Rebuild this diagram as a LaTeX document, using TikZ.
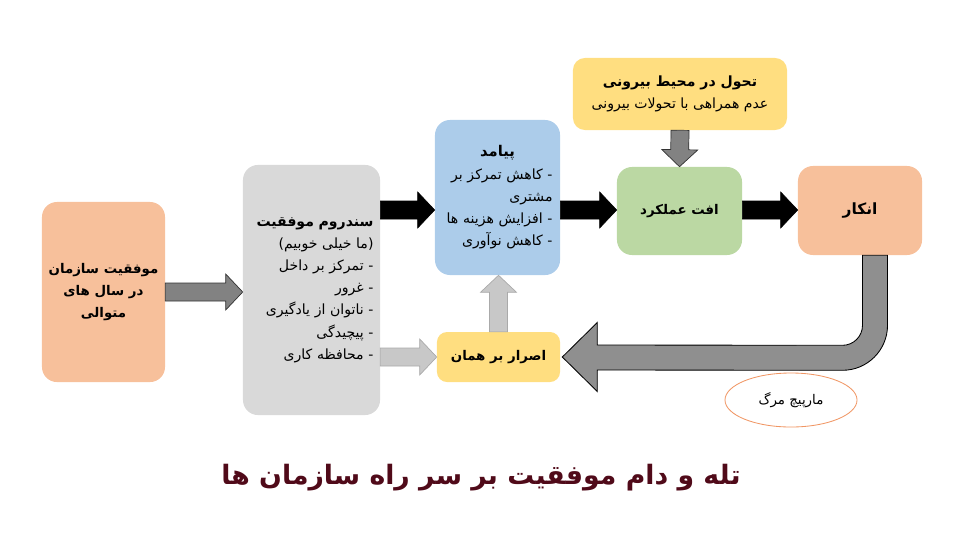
\documentclass[tikz,border=0pt]{standalone}
\usepackage{fontspec}
\usetikzlibrary{calc,shapes.geometric}
\TeXXeTstate=1
\newfontfamily\fa[Script=Arabic]{DejaVu Sans}

\definecolor{peach}{RGB}{247,192,155}
\definecolor{boxgray}{RGB}{217,217,217}
\definecolor{boxblue}{RGB}{172,204,234}
\definecolor{boxyellow}{RGB}{255,222,128}
\definecolor{boxgreen}{RGB}{187,216,163}
\definecolor{ringorange}{RGB}{240,150,100}
\definecolor{titlered}{RGB}{80,10,25}

\newcommand{\arrsh}{0.225cm}
\newcommand{\arrhh}{0.45cm}
\newcommand{\arrhl}{0.425cm}
\newcommand{\blockarrow}[3]{%
  \path #2 coordinate (ba) #3 coordinate (bb);
  \path ($(bb)!\arrhl!(ba)$) coordinate (bh);
  \draw[#1] ($(ba)!\arrsh!90:(bb)$) -- ($(bh)!\arrsh!90:(bb)$) -- ($(bh)!\arrhh!90:(bb)$)
    -- (bb) -- ($(bh)!\arrhh!-90:(bb)$) -- ($(bh)!\arrsh!-90:(bb)$) -- ($(ba)!\arrsh!-90:(bb)$) -- cycle;}

\begin{document}
\begin{tikzpicture}[x=0.025cm, y=-0.025cm,
    box/.style={rounded corners=0.375cm, align=center, inner sep=0pt, font=\fa\fontsize{10}{15.8}\selectfont},
    boldbox/.style={box, font=\fa\bfseries\fontsize{#1}{15.6}\selectfont},
    darkarrow/.style={fill={rgb,255:red,130;green,130;blue,130}, draw=black!80, line width=0.5pt},
    blackarrow/.style={fill=black, draw=black},
    lightarrow/.style={fill={rgb,255:red,200;green,200;blue,200}, draw={rgb,255:red,170;green,170;blue,170}, line width=0.5pt},
    bigarrow/.style={fill={rgb,255:red,143;green,143;blue,143}, draw=black, line width=0.6pt}]
  \useasboundingbox (0,0) rectangle (970,540);

  \node[boldbox=9.5, fill=peach, minimum width=3.075cm, minimum height=4.5cm] (success) at (103.5,292)
    {\beginR موفقیت سازمان\endR\\\beginR در سال های\endR\\\beginR متوالی\endR};
  \node[box, fill=boxgray, minimum width=3.425cm, minimum height=6.25cm, align=right, text width=3.1cm] (syndrome) at (311.5,290)
    {{\bfseries\fontsize{10}{15.8}\selectfont\beginR سندروم موفقیت\endR}\\
     \beginR (ما خیلی خوبیم)\endR\\
     \beginR - تمرکز بر داخل\endR\\
     \beginR - غرور\endR\\
     \beginR - ناتوان از یادگیری\endR\\
     \beginR - پیچیدگی\endR\\
     \beginR - محافظه کاری\endR};
  \node[box, fill=boxblue, minimum width=3.125cm, minimum height=3.875cm, align=right, text width=2.75cm] (outcome) at (497.5,197.5)
    {\makebox[2.75cm]{\bfseries\fontsize{10.5}{15.8}\selectfont\beginR پیامد\endR}\\
     \beginR - کاهش تمرکز بر\endR\\
     \beginR مشتری\endR\\
     \beginR - افزایش هزینه ها\endR\\
     \beginR - کاهش نوآوری\endR};
  \node[box, fill=boxyellow, rounded corners=0.3cm, minimum width=5.35cm, minimum height=1.8cm] (change) at (680,94)
    {{\bfseries\fontsize{10}{15.8}\selectfont\beginR تحول در محیط بیرونی\endR}\\\beginR عدم همراهی با تحولات بیرونی\endR};
  \node[boldbox=9.5, fill=boxgreen, minimum width=3.125cm, minimum height=2.2cm] (decline) at (679.5,211)
    {\beginR افت عملکرد\endR};
  \node[boldbox=11, fill=peach, minimum width=3.1cm, minimum height=2.225cm] (denial) at (860,210.5)
    {\beginR انکار\endR};
  \node[boldbox=9.5, fill=boxyellow, rounded corners=0.25cm, minimum width=3.075cm, minimum height=1.25cm] (insist) at (498.5,357)
    {\beginR اصرار بر همان\endR};
  \node[ellipse, draw=ringorange, line width=0.6pt, minimum width=3.3cm, minimum height=1.35cm, inner sep=0pt,
    font=\fa\fontsize{9.5}{12}\selectfont] (spiral) at (791,400) {\beginR مارپیچ مرگ\endR};
  \node[font=\fa\bfseries\fontsize{19}{24}\selectfont, text=titlered] (title) at (481,478)
    {\beginR تله و دام موفقیت بر سر راه سازمان ها\endR};

  \coordinate (row) at (0,210);
  \blockarrow{darkarrow}{(success.east)}{(syndrome.west |- success.east)}
  \blockarrow{blackarrow}{(syndrome.east |- row)}{(outcome.west |- row)}
  \blockarrow{blackarrow}{(outcome.east |- row)}{(decline.west |- row)}
  \blockarrow{blackarrow}{(decline.east |- row)}{(denial.west |- row)}
  \blockarrow{darkarrow}{(change.south)}{(decline.north)}
  \blockarrow{lightarrow}{(syndrome.east |- insist.west)}{(insist.west)}
  \blockarrow{lightarrow}{(insist.north)}{(insist.north |- outcome.south)}

  % spiral back from denial
  \draw[bigarrow] ($(denial.south)+(2.5,0)$) -- ++(0,70) arc[start angle=0, end angle=-90, radius=0.5cm]
    -- ($(insist.east)+(37,-12)$) -- ($(insist.east)+(37,-34.5)$) -- ($(insist.east)+(2,0)$)
    -- ($(insist.east)+(37,34.5)$) -- ($(insist.east)+(37,13)$) -- ($(denial.south)+(-17.5,115)$)
    arc[start angle=-90, end angle=0, radius=1.125cm] -- ($(denial.south)+(27.5,0)$) -- cycle;
\end{tikzpicture}
\end{document}
